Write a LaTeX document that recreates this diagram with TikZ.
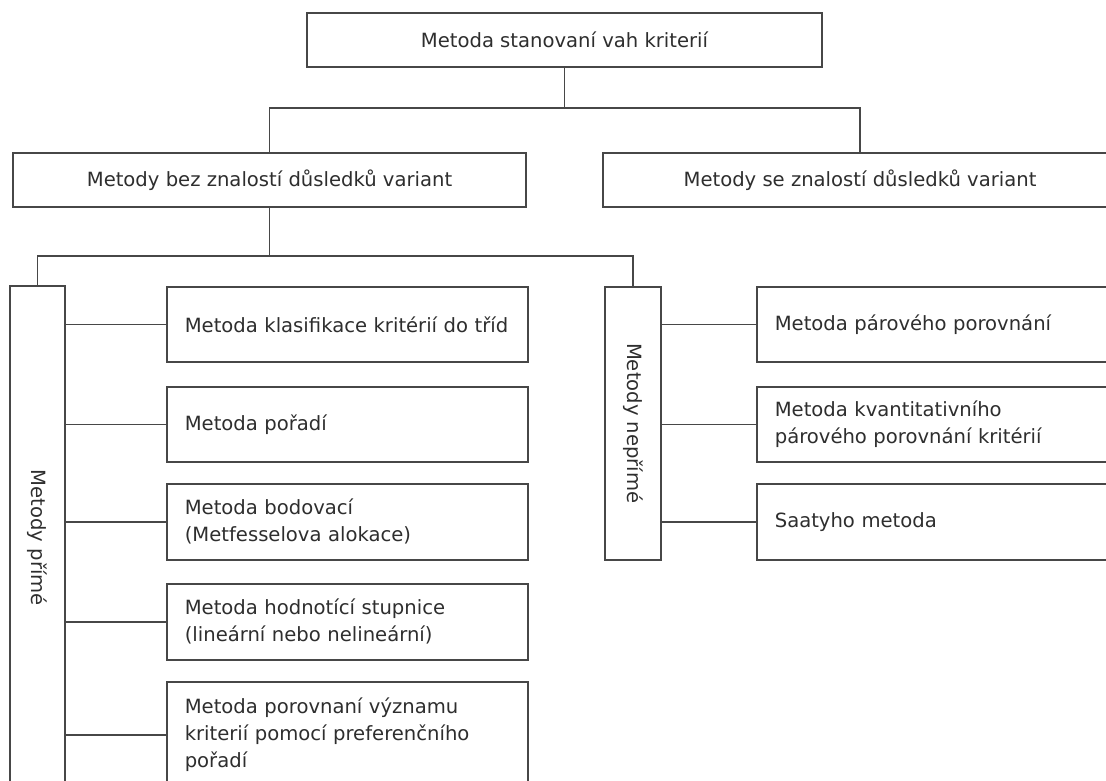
\documentclass[tikz,border=0pt]{standalone}
\usepackage{fontspec}
\setmainfont{DejaVu Sans}
\begin{document}
\begin{tikzpicture}[x=1pt,y=-1pt,
  every node/.style={font=\fontsize{19.6}{27}\selectfont, text=black!82},
  box/.style={draw=black!72, line width=1.6pt, rectangle, inner sep=0pt},
  headbox/.style={box, minimum width=#1, minimum height=54pt, align=center},
  leafbox/.style={box, anchor=north west, inner xsep=18pt, text width=325pt,
                  align=left, minimum height=#1},
  vbox/.style={box, anchor=north west, minimum width=55pt, minimum height=#1},
  link/.style={draw=black!72, line width=1.6pt}]
\clip (0,0) rectangle (1106,780);
\fill[white] (0,0) rectangle (1106,780);

% header levels
\node[headbox=515pt] (root) at (564.5,40) {Metoda stanovaní vah kriterií};
\node[headbox=513pt] (bez) at (269.5,180) {Metody bez znalostí důsledků variant};
\node[headbox=514pt] (se) at (860,180) {Metody se znalostí důsledků variant};

\coordinate (j1) at (564.5,108);
\coordinate (j2) at (269.5,256);

% vertical group boxes
\node[vbox=504pt] (prime) at (9,285) {\rotatebox{-90}{Metody přímé}};
\node[vbox=273pt, minimum width=56pt] (neprime) at (604,286) {\rotatebox{-90}{Metody nepřímé}};

% direct methods
\node[leafbox=75pt] (a1) at (166,286) {Metoda klasifikace kritérií do tříd};
\node[leafbox=75pt] (a2) at (166,386) {Metoda pořadí};
\node[leafbox=76pt] (a3) at (166,483) {Metoda bodovací\\(Metfesselova alokace)};
\node[leafbox=76pt] (a4) at (166,583) {Metoda hodnotící stupnice\\(lineární nebo nelineární)};
\node[leafbox=106pt] (a5) at (166,681) {Metoda porovnaní významu\\kriterií pomocí preferenčního\\pořadí};

% indirect methods
\node[leafbox=75pt] (b1) at (756,286) {Metoda párového porovnání};
\node[leafbox=75pt] (b2) at (756,386) {Metoda kvantitativního\\párového porovnání kritérií};
\node[leafbox=76pt] (b3) at (756,483) {Saatyho metoda};

% connectors
\draw[link] (root) -- (j1);
\draw[link] (j1) -| (bez);
\draw[link] (j1) -| (se);
\draw[link] (bez) -- (j2);
\draw[link] (j2) -| (prime);
\draw[link] (j2) -| (neprime);
\foreach \n in {a1,a2,a3,a4,a5}
  \draw[link] (\n.west) -- (\n.west -| prime.east);
\foreach \n in {b1,b2,b3}
  \draw[link] (\n.west) -- (\n.west -| neprime.east);
\end{tikzpicture}
\end{document}
